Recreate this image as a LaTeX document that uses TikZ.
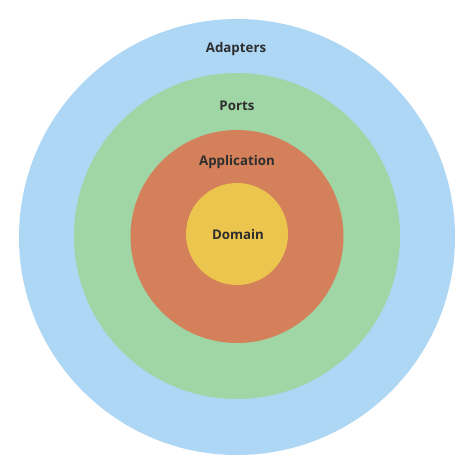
\documentclass[tikz,border=0pt]{standalone}
\usepackage{fontspec}
\setmainfont{Open Sans}
\definecolor{cblue}{HTML}{AED6F5}
\definecolor{cgreen}{HTML}{A0D5A5}
\definecolor{corange}{HTML}{D4805A}
\definecolor{cyellow}{HTML}{ECC54E}
\definecolor{ctext}{HTML}{2E2E2E}
\tikzset{
  ring/.style={circle, inner sep=0pt, minimum size=#1},
  lbl/.style={font=\fontsize{13.3}{15}\selectfont\bfseries, text=ctext, inner sep=0pt}
}
\begin{document}
\begin{tikzpicture}[x=1pt,y=-1pt]
\useasboundingbox (0,0) rectangle (474,474);
\fill[white] (0,0) rectangle (474,474);
\node[ring=436pt, fill=cblue] (adapters) at (237,237) {};
\node[ring=326pt, fill=cgreen] (ports) at (237,236) {};
\node[ring=213pt, fill=corange] (application) at (237,236.5) {};
\node[ring=102pt, fill=cyellow] (domain) at (237,234) {};
\node[lbl] (tadapters) at (236,49.5) {Adapters};
\node[lbl] (tports) at (237,105.5) {Ports};
\node[lbl] (tapplication) at (237,162.5) {Application};
\node[lbl] (tdomain) at (238,234.5) {Domain};
\end{tikzpicture}
\end{document}
